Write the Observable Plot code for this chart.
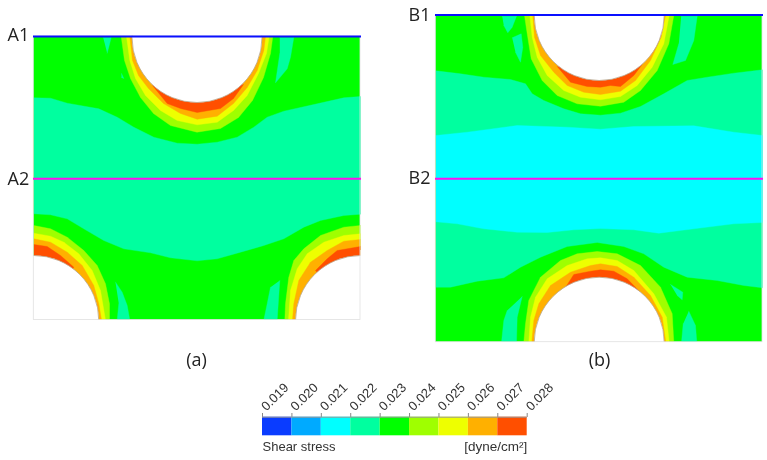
<!DOCTYPE html>
<html><head><meta charset="utf-8">
<style>html,body{margin:0;padding:0;background:#fff;overflow:hidden}svg{display:block;filter:blur(0.35px)}</style>
<script src="https://cdn.jsdelivr.net/npm/d3@7"></script>
<script src="https://cdn.jsdelivr.net/npm/@observablehq/plot@0.6"></script>
</head><body><div id="chart"></div>
<script>
// Legend
const levels=[0.019,0.020,0.021,0.022,0.023,0.024,0.025,0.026,0.027,0.028];
const levelColors=["#0a3cff","#00aaff","#00ffff","#00ff9f","#00ff00","#9fff00","#eeff00","#ffb000","#ff4f00"];
const [TEAL,CYAN,GREEN,LIME,YELLOW,ORANGE,RED]=[levelColors[3],levelColors[2],levelColors[4],levelColors[5],levelColors[6],levelColors[7],levelColors[8]];

// Panel frames [x1,x2,y1,y2]
const frameA=[33.3,360,36,319.5];
const frameB=[435.3,762,14.5,341.7];
const holes=[[196.5,37],[33.3,320],[360,320],[598.7,15],[598.7,341.7]];
const masks=[[0,33,250,380],[0,434.8,320,380],[360.4,434.8,250,380],[100,300,0,35.5],[500,700,0,14],[500,700,342,380]];
const refLines=[{x1:33,x2:361,y:36,c:"#0a10ff"},{x1:33,x2:361,y:178.3,c:"#ff10ee"},{x1:435,x2:763,y:14.5,c:"#0a10ff"},{x1:435,x2:763,y:178.3,c:"#ff10ee"}];
const lineLabels=[{t:"A1",x:7,y:35},{t:"A2",x:7,y:179},{t:"B1",x:408,y:15},{t:"B2",x:408,y:178}];
const panelLabels=[{t:"(a)",x:196,y:360},{t:"(b)",x:599,y:360}];

// Panel (a) contours
const aTealTop=[[33.3,97.3],[50,97.7],[66.7,102.7],[98.3,108.3],[116.7,116.7],[133.3,126.7],[153.3,136.7],[176.7,142.7],[196.7,143.7],[216.7,141.7],[236.7,136.7],[253.3,126.7],[266.7,116.7],[283.3,110.7],[316.7,103.3],[343.3,97.3],[360,96]];
const aTealBottom=[[33.3,213.3],[50,214.3],[66.7,218.3],[83.3,228.3],[103.3,240],[123.3,248.3],[150,252.3],[170,257.3],[196.7,260.3],[216.7,258.3],[240,251.7],[263.3,245],[283.3,238.3],[303.3,226.7],[320,220],[343.3,215],[360,213.7]];
const aTopLime=[[120.7,36],[124,60],[130,78],[140,97],[153,113],[170,125],[196.5,131.7],[220,128],[238,117],[252,100],[263,77],[270,53],[272.3,36]];
const aTopYellow=[[126,36],[129.3,60],[135,78],[145,95],[160,110],[176.7,120],[196.7,124.3],[216.7,121.7],[233,110],[246.7,95],[258,73],[266,53],[268.7,36]];
const aTopOrange=[[129.3,36],[132,60],[138,75],[148,88],[163,103],[180,113],[196.7,118.7],[216.7,115.7],[233,103],[246.7,87],[256.7,70],[263.3,50],[265,36]];
const aTopRed=[[152,85],[166.7,103],[180,108],[196.7,112],[220,108],[233,98],[243,84]];
const aLeftLime=[[33.3,225],[50,228.3],[66.7,236.7],[83.3,250],[96.7,265],[105,283.3],[109,303.3],[109,319.5],[33.3,319.5]];
const aLeftYellow=[[33.3,232.7],[50,235.7],[63.3,241.7],[78.3,253.3],[91.7,270],[100,290],[105,319.5],[33.3,319.5]];
const aLeftOrange=[[33.3,238.3],[50,241.7],[66.7,251.7],[81.7,265],[93.3,285],[98.3,303.3],[101,319.5],[33.3,319.5]];
const aLeftRed=[[33.3,244],[46.7,246],[60,255],[73.3,266.7],[33.3,319.5]];
const aRightLime=[[360,225],[343.3,226.7],[320,235],[303.3,248.3],[293.3,260],[288.3,276.7],[285,303.3],[284.3,319.5],[360,319.5]];
const aRightYellow=[[360,233.3],[343.3,235],[323.3,241.7],[306.7,253.3],[296.7,268.3],[290,290],[288,319.5],[360,319.5]];
const aRightOrange=[[360,239],[343.3,240.7],[326.7,250],[310,261.7],[298.3,280],[293.3,303.3],[292,319.5],[360,319.5]];
const aRightRed=[[360,246],[336.7,250],[326.7,258.3],[315,270],[360,319.5]];
const aPatches=[
 [[102.7,37],[110.7,37],[106.7,52.7]],
 [[121,73],[123.3,78],[121,77]],
 [[279.3,37],[293.3,37],[290,56.7],[286.7,68.3],[275,82.3],[279.3,53]],
 [[115,281.7],[121.7,291.7],[126.7,305],[129.3,319.5],[116.7,319.5],[118.3,303.3]],
 [[279.3,280],[276.7,319.5],[263.3,319.5],[266.7,303.3],[270,286.7]]];

// Panel (b) contours
const bTealTop=[[435.3,70.3],[460,73.3],[483.3,76.7],[510,79],[525,83.3],[531.7,93.3],[543.3,100],[563.3,108.3],[580,113.3],[600,114.7],[620,112.7],[640,106],[663.3,93.3],[686.7,80],[706.7,76.7],[733.3,72.7],[762,69.3]];
const bTealBottom=[[435.3,286.7],[450,286.7],[476.7,280.7],[503.3,277.3],[520,266.7],[540,256.7],[566.7,246],[596.7,242],[623.3,246],[643.3,253.3],[663.3,266.7],[686.7,276.7],[716.7,280],[743.3,285],[762,287.3]];
const bCyanTop=[[435.3,135],[466.7,131.7],[516.7,125],[566.7,126.7],[600,128.7],[633.3,126],[693.3,125.3],[733.3,131.7],[762,135]];
const bCyanBottom=[[435.3,221.3],[456.7,223.3],[483.3,228.3],[516.7,231.7],[546.7,232],[573.3,229.3],[600,228],[633.3,229.3],[658.3,232.7],[693.3,228.3],[733.3,223.3],[762,222]];
const bTopLime=[[524,15],[526.7,33.3],[530.7,58.3],[541.7,80],[556.7,95],[576.7,103.3],[600,105.7],[623.3,101.7],[640,90],[656.7,70],[668.3,43.3],[673.3,15]];
const bTopYellow=[[529.3,15],[531.7,36.7],[536.7,56.7],[546.7,75],[563.3,90],[580,96.7],[600,99.3],[620,96],[636.7,85],[651.7,66.7],[663.3,43.3],[668.7,15]];
const bTopOrange=[[532.3,15],[534,36.7],[540,55],[553.3,71.7],[566.7,85],[583.3,91.7],[600,94],[620,90.7],[635,80],[650,60],[660.7,36.7],[665,15]];
const bTopRed=[[556.7,66],[570,81.7],[586.7,86],[600,86.7],[610,85],[620,86],[633.3,75],[641.7,64]];
const bBotLime=[[523.3,341.7],[525,323.3],[528.3,300],[540,276.7],[560,260],[576.7,253.3],[596.7,251],[616.7,253.3],[640,265],[660,286.7],[671.7,313.3],[673.3,341.7]];
const bBotYellow=[[528.3,341.7],[530,316.7],[535,296.7],[546.7,278.3],[566.7,265],[586.7,258.3],[600,257.3],[616.7,260],[633.3,270],[653.3,293.3],[666,316.7],[668.7,341.7]];
const bBotOrange=[[531.3,341.7],[533.3,320],[538.3,303.3],[550,285],[570,271.7],[590,265],[600,263.3],[616.7,266],[633.3,276.7],[650,295],[661.7,316.7],[665.3,341.7]];
const bBotRed=[[565,287],[573.3,274],[590,270.7],[600,269.3],[613.3,270.7],[626.7,278.3],[640,292]];
const bPatches=[
 [[501.7,15.7],[516,15.7],[511.7,26.7],[507.3,32.3],[503.3,25]],
 [[511.7,37.3],[520.7,33.3],[522.3,46.7],[520,61.7],[515,51.7]],
 [[680.7,15.7],[696.7,15.7],[693.3,40],[685,60],[672.3,64],[678.3,43.3]],
 [[521.7,296],[516.7,316.7],[516,341.7],[501,341.7],[503.3,320],[506.7,310]],
 [[670,284],[682.3,291.7],[681.7,299.3],[676.7,295]],
 [[688.3,310.7],[695,325],[696.3,341.7],[681,341.7],[682.7,323.3]]];

const band=(pts,c)=>Plot.line(pts,{x:d=>d[0],y:d=>d[1],fill:c,stroke:c,strokeWidth:0.4,curve:"linear"});
const strip=(top,bot,c)=>band([...top,...[...bot].reverse()],c);
const frameFill=f=>Plot.rect([f],{x1:d=>d[0],x2:d=>d[1],y1:d=>d[2],y2:d=>d[3],fill:GREEN});
const frameEdge=f=>Plot.rect([f],{x1:d=>d[0],x2:d=>d[1],y1:d=>d[2],y2:d=>d[3],fill:"none",stroke:"#e0e0e0",strokeWidth:0.8});

const main=Plot.plot({
  width:767,height:380,margin:0,
  x:{domain:[0,767],range:[0,767],axis:null},
  y:{domain:[0,380],range:[0,380],axis:null},
  marks:[
    frameFill(frameA),frameFill(frameB),
    strip(aTealTop,aTealBottom,TEAL),
    ...aPatches.map(p=>band(p,TEAL)),
    band(aTopLime,LIME),band(aTopYellow,YELLOW),band(aTopOrange,ORANGE),band(aTopRed,RED),
    band(aLeftLime,LIME),band(aLeftYellow,YELLOW),band(aLeftOrange,ORANGE),band(aLeftRed,RED),
    band(aRightLime,LIME),band(aRightYellow,YELLOW),band(aRightOrange,ORANGE),band(aRightRed,RED),
    strip(bTealTop,bTealBottom,TEAL),
    strip(bCyanTop,bCyanBottom,CYAN),
    ...bPatches.map(p=>band(p,TEAL)),
    band(bTopLime,LIME),band(bTopYellow,YELLOW),band(bTopOrange,ORANGE),band(bTopRed,RED),
    band(bBotLime,LIME),band(bBotYellow,YELLOW),band(bBotOrange,ORANGE),band(bBotRed,RED),
    Plot.dot(holes,{x:d=>d[0],y:d=>d[1],r:65,fill:"#fff",stroke:"#b8a890",strokeWidth:0.8}),
    Plot.rect(masks,{x1:d=>d[0],x2:d=>d[1],y1:d=>d[2],y2:d=>d[3],fill:"#fff"}),
    frameEdge(frameA),frameEdge(frameB),
    Plot.ruleY(refLines,{x1:"x1",x2:"x2",y:"y",stroke:"c",strokeWidth:2}),
    Plot.text(lineLabels,{x:"x",y:"y",text:"t",textAnchor:"start",fontSize:18,fontFamily:"Open Sans",fill:"#222"}),
    Plot.text(panelLabels,{x:"x",y:"y",text:"t",fontSize:18,fontFamily:"Open Sans",fill:"#222"})
  ]
});

const cells=levelColors.map((c,i)=>({a:levels[i],b:levels[i+1],c}));
const bar=Plot.plot({
  width:767,height:80,margin:0,
  x:{domain:[levels[0],levels[9]],range:[262,526.7],axis:null},
  y:{domain:[0,80],range:[0,80],axis:null},
  marks:[
    Plot.rect(cells,{x1:"a",x2:"b",y1:36.7,y2:55.3,fill:"c"}),
    Plot.ruleX(levels,{y1:33,y2:37,stroke:"#888",strokeWidth:1}),
    Plot.ruleY([36.7],{x1:levels[0],x2:levels[9],stroke:"#999",strokeWidth:1}),
    Plot.text(levels,{x:d=>d,y:28,dx:1,text:d=>d.toFixed(3),rotate:-45,textAnchor:"start",fontSize:13,fontFamily:"Liberation Sans",fill:"#333"}),
    Plot.text(["Shear stress"],{x:levels[0],y:66,text:d=>d,textAnchor:"start",fontSize:13,fontFamily:"Liberation Sans",fill:"#333"}),
    Plot.text(["[dyne/cm²]"],{x:levels[9],y:66,text:d=>d,textAnchor:"end",fontSize:13.5,fontFamily:"Liberation Sans",fill:"#333"})
  ]
});
document.getElementById("chart").append(main,bar);
</script></body></html>
